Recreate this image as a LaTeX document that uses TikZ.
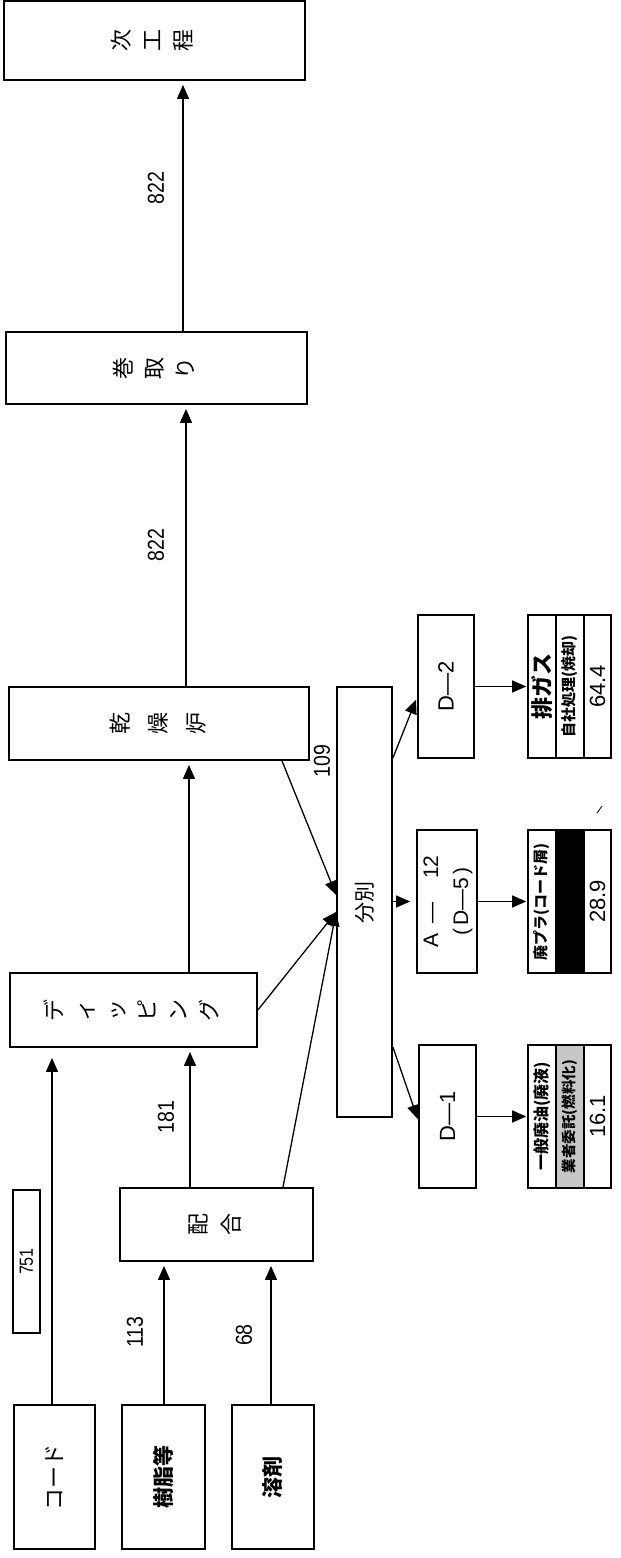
\documentclass[tikz,border=0pt]{standalone}
\usepackage{fontspec}
\usepackage{graphicx}
\setmainfont{Liberation Sans}
\newfontfamily\jp{Noto Sans CJK JP}
\usetikzlibrary{arrows.meta}
\newcommand\vstack[1]{\rotatebox{90}{\begin{tabular}{@{}c@{}}#1\end{tabular}}}
\newcommand\rt[1]{\rotatebox{90}{#1}}
\newcommand\nn[1]{\rotatebox{90}{\scalebox{0.85}[1]{#1}}}
\begin{document}
\begin{tikzpicture}[x=1pt,y=-1pt,
  box/.style={draw, line width=1.8pt, fill=white, inner sep=0pt},
  cell/.style={draw, line width=1.6pt, inner sep=0pt, minimum width=28pt, minimum height=143pt},
  arr/.style={line width=1.3pt, -{Triangle[length=14pt,width=12pt]}, shorten >=4pt},
  num/.style={font=\fontsize{23}{26}\selectfont, inner sep=0pt},
  tnum/.style={font=\fontsize{22}{26}\selectfont},
  jpbig/.style={font=\jp\fontsize{22}{31}\selectfont},
  jpmid/.style={font=\jp\bfseries\fontsize{21}{24}\selectfont},
  cjkcell/.style={font=\jp\bfseries\fontsize{15}{18}\selectfont}
]
\useasboundingbox (0,0) rectangle (621,1558);

% main process boxes
\node[box, minimum width=301pt, minimum height=79pt, jpbig] (nx) at (154.5,40.5) {\vstack{次\\工\\程}};
\node[box, minimum width=301pt, minimum height=72pt, jpbig] (mk) at (156.5,368) {\vstack{巻\\取\\り}};
\node[box, minimum width=300pt, minimum height=73pt, font=\jp\fontsize{22}{38}\selectfont] (kd) at (159,723.5) {\vstack{乾\\燥\\炉}};
\node[box, minimum width=247pt, minimum height=74pt, jpbig] (dp) at (133.5,1010) {\vstack{デ\\ィ\\ッ\\ピ\\ン\\グ}};
\node[box, minimum width=193pt, minimum height=73pt, font=\jp\fontsize{22}{33}\selectfont] (hg) at (216.5,1224.5) {\vstack{配\\合}};
\node[box, minimum width=27pt, minimum height=143pt, font=\fontsize{19}{20}\selectfont] (b751) at (26.5,1261.5) {\nn{751}};

% inputs
\node[box, minimum width=81pt, minimum height=144pt, jpbig] (cd) at (54.5,1477) {\rt{コード}};
\node[box, minimum width=83pt, minimum height=144pt, jpmid] (js) at (163.5,1477) {\rt{樹脂等}};
\node[box, minimum width=82pt, minimum height=144pt, jpmid] (yz) at (273,1477) {\rt{溶剤}};

% separation
\node[box, minimum width=55pt, minimum height=430pt, font=\jp\fontsize{21}{24}\selectfont] (bb) at (364.5,902) {\rt{分別}};

% waste categories
\node[box, minimum width=56pt, minimum height=143pt, font=\fontsize{22}{24}\selectfont] (d2) at (446,686.5) {\rt{D—2}};
\node[box, minimum width=56pt, minimum height=143pt, font=\fontsize{21}{30}\selectfont] (a12) at (447,901.5) {\rotatebox{90}{\begin{tabular}{@{}c@{}}A\hspace{10pt}—\hspace{24pt}12\\(\,D—5\,)\end{tabular}}};
\node[box, minimum width=57pt, minimum height=143pt, font=\fontsize{22}{24}\selectfont] (d1) at (447.5,1116.5) {\rt{D—1}};

% tables
\node[cell, font=\jp\bfseries\fontsize{22}{24}\selectfont] (pg1) at (542,686.5) {\rt{排ガス}};
\node[cell, cjkcell] (pg2) at (570,686.5) {\rt{自社処理(焼却)}};
\node[cell, tnum, minimum width=27pt] (pg3) at (597.5,686.5) {\rt{64.4}};

\node[cell, cjkcell] (hp1) at (542,901.5) {\rt{廃プラ(コード屑)}};
\node[cell, fill=black] (hp2) at (570,901.5) {};
\node[cell, tnum, minimum width=27pt] (hp3) at (597.5,901.5) {\rt{28.9}};

\node[cell, font=\jp\bfseries\fontsize{16}{18}\selectfont] (ip1) at (542,1116.5) {\rt{一般廃油(廃液)}};
\node[cell, fill=black!22, font=\jp\bfseries\fontsize{14.5}{18}\selectfont] (ip2) at (570,1116.5) {\rt{業者委託(燃料化)}};
\node[cell, tnum, minimum width=27pt] (ip3) at (597.5,1116.5) {\rt{16.1}};

% main flow arrows
\draw[arr] ([xshift=26.5pt]mk.north) -- ([xshift=28.5pt]nx.south);
\draw[arr] ([xshift=27pt]kd.north) -- ([xshift=29.5pt]mk.south);
\draw[arr] ([xshift=55.5pt]dp.north) -- ([xshift=30pt]kd.south);
\draw[arr] ([xshift=-26.5pt]hg.north) -- ([xshift=56.5pt]dp.south);
\draw[arr, shorten >=10pt] ([xshift=-2.5pt]cd.north) -- ([xshift=-81.5pt]dp.south);
\draw[arr] ([xshift=0.5pt]js.north) -- ([xshift=-52.5pt]hg.south);
\draw[arr] ([xshift=-2pt]yz.north) -- ([xshift=54.5pt]hg.south);

% into separation
\draw[arr, shorten >=0pt] ([xshift=123pt]kd.south) -- ([yshift=7pt]bb.west);
\draw[arr, shorten >=0pt] (dp.east) -- ([yshift=-10pt]bb.west);
\draw[arr, shorten >=0pt] ([xshift=66.5pt]hg.north) -- ([yshift=-10pt]bb.west);

% out of separation
\draw[arr, shorten >=3pt] ([yshift=144pt]bb.east) -- ([yshift=-10.5pt]d2.west);
\draw[arr, shorten >=6pt] (bb.east |- a12.west) -- (a12.west);
\draw[arr, shorten >=1pt] ([yshift=-145pt]bb.east) -- ([yshift=-3.5pt]d1.west);

\draw[arr, shorten >=1pt] (d2.east) -- (pg1.west);
\draw[arr, shorten >=1pt] (a12.east) -- (hp1.west);
\draw[arr, shorten >=1pt] (d1.east) -- (ip1.west);

% flow labels
\node[num] (l822a) at (156,188) {\nn{822}};
\node[num] (l822b) at (156,545) {\nn{822}};
\node[num] (l109) at (322,761) {\nn{109}};
\node[num] (l181) at (166,1117) {\nn{181}};
\node[num] (l113) at (135,1332) {\nn{113}};
\node[num] (l68) at (244,1335) {\nn{68}};

% small stray mark
\draw[line width=0.8pt] (597,813) -- (602,806);
\end{tikzpicture}
\end{document}
